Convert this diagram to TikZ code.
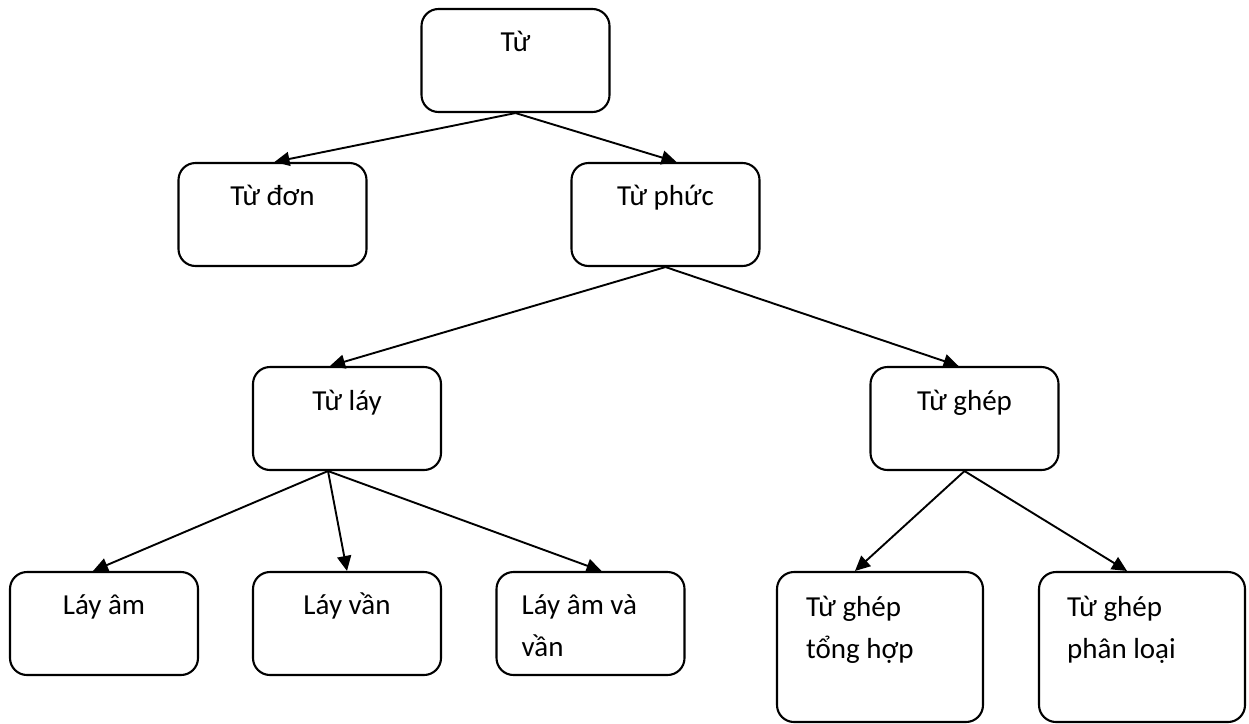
\documentclass[tikz,border=0pt]{standalone}
\usepackage{fontspec}
\setmainfont{Carlito}
\usetikzlibrary{arrows.meta}
\begin{document}
\begin{tikzpicture}[x=1pt,y=-1pt,
  box/.style={draw,line width=2.1pt,rounded corners=17pt,minimum width=#1,inner sep=0pt},
  box/.default=188pt,
  lbl/.style={anchor=base,inner sep=0pt,font=\fontsize{29}{41.5}\selectfont},
  lbll/.style={anchor=base west,inner sep=0pt,align=left,font=\fontsize{29}{41.5}\selectfont},
  conn/.style={line width=1.9pt,-{Triangle[length=15pt,width=14pt]}}]
\useasboundingbox (0,0) rectangle (1249,723);
% boxes
\node[box,minimum height=103pt] (tu) at (515.5,60.5) {};
\node[box,minimum height=103pt] (tudon) at (272.5,214.5) {};
\node[box,minimum height=103pt] (tuphuc) at (665.5,214.5) {};
\node[box,minimum height=103pt] (tulay) at (347,418.5) {};
\node[box,minimum height=103pt] (tughep) at (964.5,418.5) {};
\node[box,minimum height=103pt] (layam) at (104,623.5) {};
\node[box,minimum height=103pt] (layvan) at (347,623.5) {};
\node[box,minimum height=103pt] (layamvan) at (590.5,623.5) {};
\node[box=206pt,minimum height=150pt] (tonghop) at (880,647) {};
\node[box=206pt,minimum height=150pt] (phanloai) at (1142,647) {};
% labels
\node[lbl] (ltu) at ([yshift=-44pt]tu.north) {Từ};
\node[lbl] (ltudon) at ([yshift=-44pt]tudon.north) {Từ đơn};
\node[lbl] (ltuphuc) at ([yshift=-44pt]tuphuc.north) {Từ phức};
\node[lbl] (ltulay) at ([yshift=-45pt]tulay.north) {Từ láy};
\node[lbl] (ltughep) at ([yshift=-45pt]tughep.north) {Từ ghép};
\node[lbl] (llayam) at ([yshift=-44pt]layam.north) {Láy âm};
\node[lbl] (llayvan) at ([yshift=-44pt]layvan.north) {Láy vần};
\node[lbll] (llayamvan) at ([xshift=26pt,yshift=-85.5pt]layamvan.north west) {Láy âm và\\vần};
\node[lbll] (ltonghop) at ([xshift=30pt,yshift=-87.5pt]tonghop.north west) {Từ ghép\\tổng hợp};
\node[lbll] (lphanloai) at ([xshift=29pt,yshift=-87.5pt]phanloai.north west) {Từ ghép\\phân loại};
% connectors
\draw[conn] (tu.south) -- ([xshift=2pt]tudon.north);
\draw[conn] (tu.south) -- ([xshift=11pt]tuphuc.north);
\draw[conn] (tuphuc.south) -- ([xshift=-17pt]tulay.north);
\draw[conn] (tuphuc.south) -- ([xshift=-6pt]tughep.north);
\draw[conn] ([xshift=-19pt]tulay.south) -- ([xshift=-11pt]layam.north);
\draw[conn] ([xshift=-19pt]tulay.south) -- (layvan.north);
\draw[conn] ([xshift=-19pt]tulay.south) -- ([xshift=11pt]layamvan.north);
\draw[conn] (tughep.south) -- ([xshift=-25pt]tonghop.north);
\draw[conn] (tughep.south) -- ([xshift=-15pt]phanloai.north);
\end{tikzpicture}
\end{document}
